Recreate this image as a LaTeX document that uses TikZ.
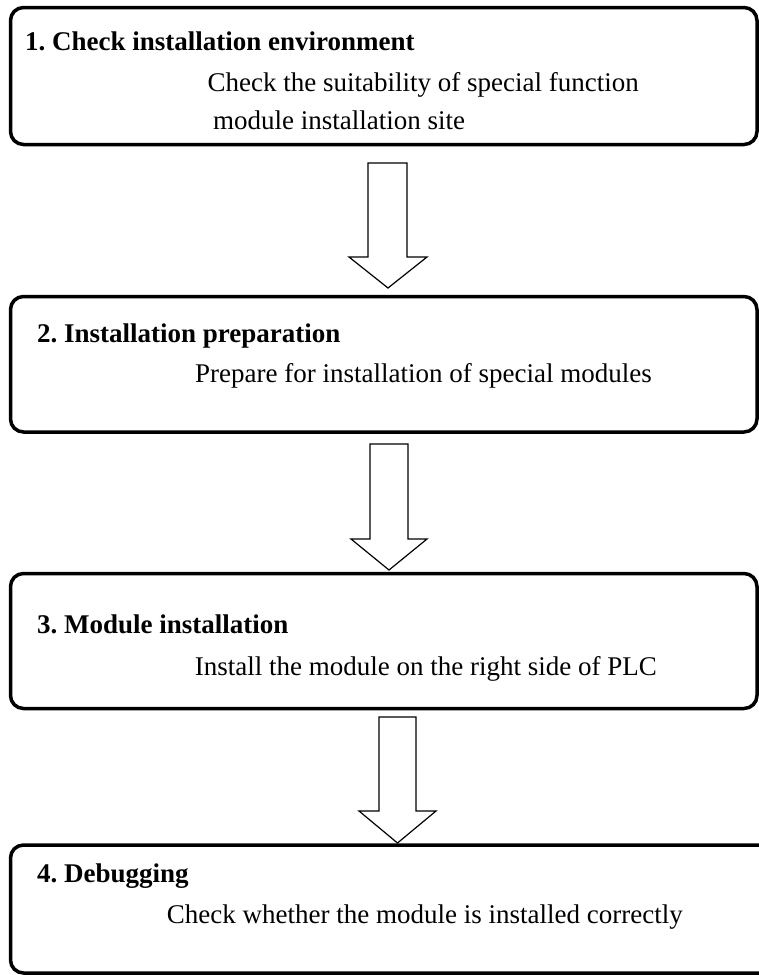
\documentclass[tikz,border=0pt]{standalone}
\usepackage{fontspec}
\setmainfont{Liberation Serif}
\frenchspacing
\newcommand{\blockarrowdraw}[7]{%
  \draw[blockarrow] (#1,#3) -- (#2,#3) -- (#2,#4) -- (#6,#4) -- ({(#5+#6)/2},#7) -- (#5,#4) -- (#1,#4) -- cycle;}
\begin{document}
\begin{tikzpicture}[x=1pt,y=-1pt,
  stepbox/.style={draw=black, line width=3.5pt, rounded corners=13pt, rectangle, inner sep=0pt, fill=none},
  titletext/.style={anchor=base west, inner sep=0pt, font=\fontsize{27}{32}\selectfont\bfseries},
  bodytext/.style={anchor=base west, inner sep=0pt, font=\fontsize{27}{32}\selectfont},
  bodyend/.style={anchor=base east, inner sep=0pt, font=\fontsize{27}{32}\selectfont},
  blockarrow/.style={draw=black, line width=1.2pt, fill=white, line join=miter}]
\useasboundingbox (0,0) rectangle (759,975);
\clip (0,0) rectangle (759,975);
% boxes
\node[stepbox, minimum width=746.5pt, minimum height=137pt] (b1) at (383.75,76) {};
\node[stepbox, minimum width=746.5pt, minimum height=135.5pt] (b2) at (383.75,364.25) {};
\node[stepbox, minimum width=746.5pt, minimum height=135pt] (b3) at (383.75,641) {};
\node[stepbox, minimum width=764.5pt, minimum height=128pt] (b4) at (392.75,909) {};
% texts
\node[titletext] (t1) at (25,50) {1. Check installation environment};
\node[bodyend] (d1a) at (639,91) {Check the suitability of special function};
\node[bodytext] (d1b) at (213,129) {module installation site};
\node[titletext] (t2) at (37,342) {2. Installation preparation};
\node[bodyend] (d2) at (652,382) {Prepare for installation of special modules};
\node[titletext] (t3) at (37,633) {3. Module installation};
\node[bodyend] (d3) at (657,675) {Install the module on the right side of PLC};
\node[titletext] (t4) at (37,882) {4. Debugging};
\node[bodyend] (d4) at (683,923) {Check whether the module is installed correctly};
% block arrows
\blockarrowdraw{368}{407}{163}{257}{349}{427}{288}
\blockarrowdraw{370}{408}{444}{539}{351}{427}{570}
\blockarrowdraw{379}{416}{717}{811}{359}{436}{843}
\end{tikzpicture}
\end{document}
